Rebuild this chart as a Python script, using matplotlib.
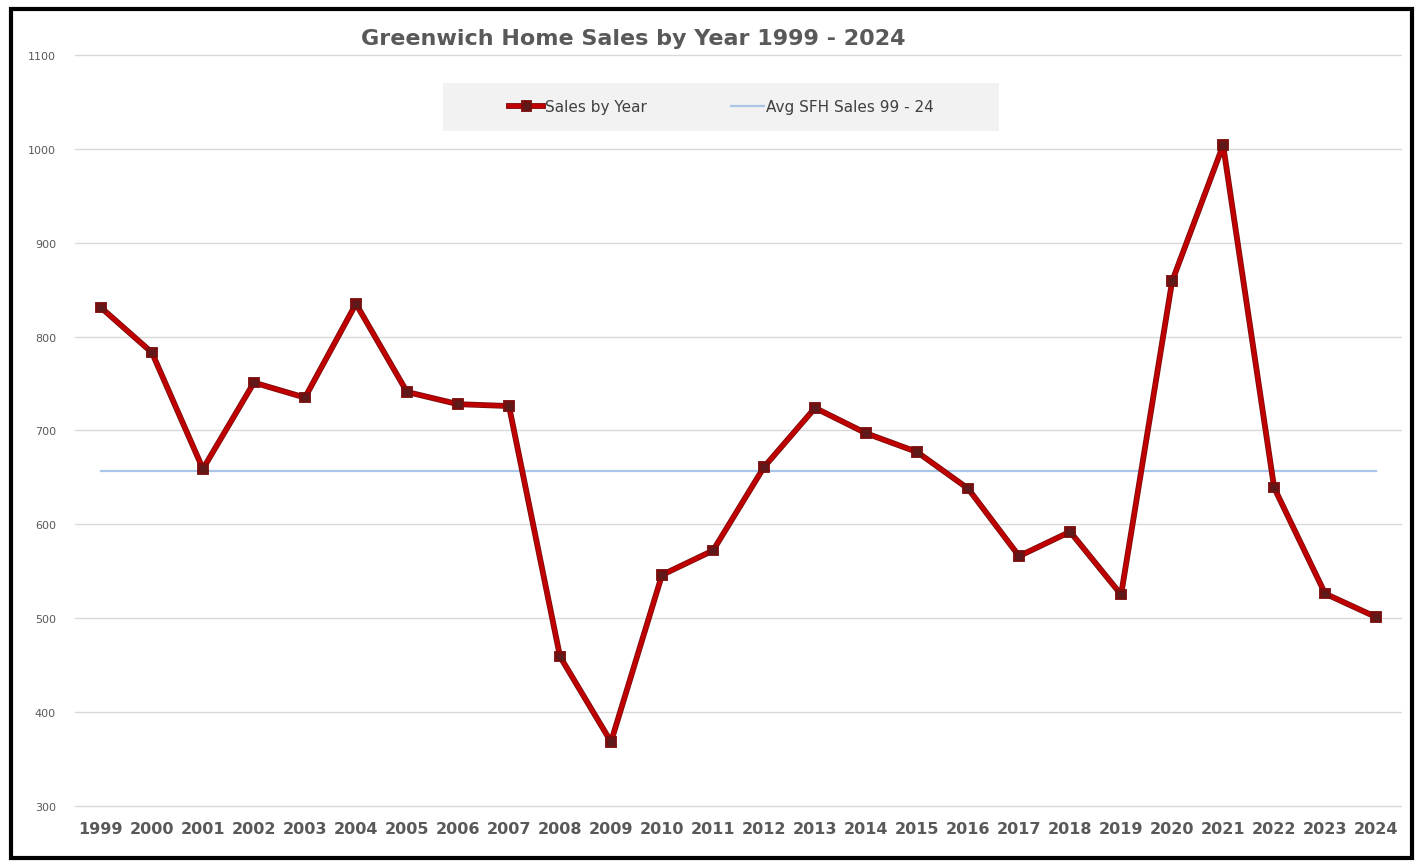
import matplotlib.pyplot as plt
import matplotlib.patheffects as pe
from matplotlib.patches import Rectangle

years = [str(y) for y in range(1999, 2025)]
sales = [831, 783, 659, 751, 735, 835, 741, 728, 726, 459, 368, 546, 572,
         661, 724, 697, 677, 638, 566, 592, 525, 859, 1004, 639, 526, 501]
avg_sales = 657
yticks = [300, 400, 500, 600, 700, 800, 900, 1000, 1100]

fig = plt.figure(figsize=(14.23, 8.62), dpi=100)
ax = fig.add_axes([0.053, 0.062, 0.932, 0.875])

x = list(range(len(years)))
ax.plot(x, [avg_sales] * len(x), color='#a9c6e8', lw=1.6, label='Avg SFH Sales 99 - 24', zorder=2)
ax.plot(x, sales, color='#c00000', lw=3, marker='s', ms=4,
        mfc='#5e1a1a', mec='#5e1a1a', label='Sales by Year', zorder=3,
        path_effects=[pe.Stroke(linewidth=4.2, foreground='#7a0d0d'), pe.Normal()])

ax.set_xlim(-0.5, len(years) - 0.5)
ax.set_ylim(298, 1102)
ax.set_yticks(yticks)
ax.set_xticks(x)
ax.set_xticklabels(years, fontsize=11.5, fontweight='bold', color='#595959')
ax.tick_params(axis='y', labelsize=8, colors='#595959', length=0, pad=14)
ax.tick_params(axis='x', length=0, pad=10)
ax.grid(axis='y', color='#d9d9d9', lw=1)
ax.set_axisbelow(True)
for s in ax.spines.values():
    s.set_visible(False)

# legend box drawn separately so it can be wider than the entries
fig.patches.append(Rectangle((0.311, 0.847), 0.391, 0.056, transform=fig.transFigure,
                             facecolor='#f2f2f2', edgecolor='none', zorder=0))
h, l = ax.get_legend_handles_labels()
leg = fig.legend(h[::-1], l[::-1], loc='center', bbox_to_anchor=(0.507, 0.875),
                 ncol=2, fontsize=11, frameon=False,
                 columnspacing=5.5, handlelength=2.2, handletextpad=0.1)
for t in leg.get_texts():
    t.set_color('#404040')

fig.text(0.445, 0.955, 'Greenwich Home Sales by Year 1999 - 2024', ha='center',
         va='center', fontsize=16, fontweight='bold', color='#595959')

fig.patches.append(Rectangle((0.008, 0.003), 0.984, 0.985, transform=fig.transFigure,
                             fill=False, edgecolor='black', lw=3))

fig.savefig('out.png', dpi=100)
